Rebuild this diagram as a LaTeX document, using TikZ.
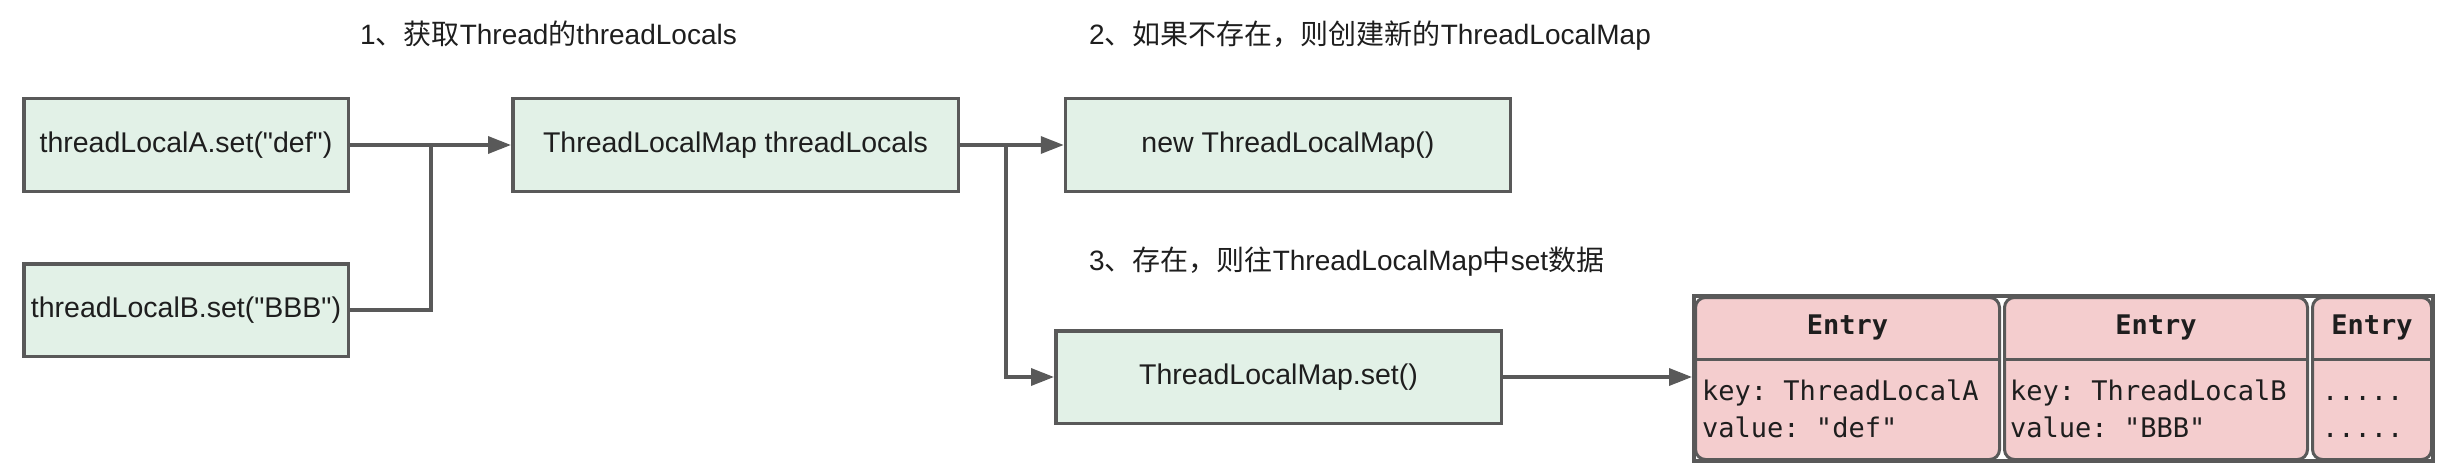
\documentclass[tikz,border=0pt]{standalone}
\usepackage{fontspec}
\setmainfont{Liberation Sans}
\setmonofont{DejaVu Sans Mono}
\newfontfamily\boxfont{Liberation Sans}
\newfontfamily\cjk{Noto Sans CJK SC}
\usetikzlibrary{arrows.meta}
\definecolor{lngray}{RGB}{89,89,89}
\definecolor{boxgreen}{RGB}{226,241,231}
\definecolor{entpink}{RGB}{244,205,206}
\definecolor{txtdark}{RGB}{30,30,30}
\begin{document}
\begin{tikzpicture}[x=1pt,y=1pt,
  blk/.style={draw=lngray,fill=boxgreen,line width=3.5pt,minimum height=92.5pt,
    inner sep=0pt,text=txtdark,font=\boxfont\fontsize{28.5}{34}\selectfont},
  ttl/.style={anchor=base west,inner sep=0pt,text=txtdark,font=\fontsize{28}{34}\selectfont},
  cell/.style={draw=lngray,fill=entpink,line width=3pt,rounded corners=10pt,
    minimum height=162pt,inner sep=0pt},
  hdr/.style={inner sep=0pt,text=txtdark,font=\ttfamily\bfseries\fontsize{27}{32}\selectfont},
  mono/.style={anchor=base west,inner sep=0pt,text=txtdark,font=\ttfamily\fontsize{27}{32}\selectfont},
  ln/.style={draw=lngray,line width=3.5pt},
  arr/.style={ln,-{Triangle[length=23pt,width=17pt]}}]%
\useasboundingbox (0,0) rectangle (2460,467);
% titles
\node[ttl] (step1) at (360,422) {1{\cjk 、获取}Thread{\cjk 的}threadLocals};
\node[ttl] (step2) at (1089,422) {2{\cjk 、如果不存在，则创建新的}ThreadLocalMap};
\node[ttl] (step3) at (1089,197) {3{\cjk 、存在，则往}ThreadLocalMap{\cjk 中}set{\cjk 数据}};
% boxes
\node[blk,minimum width=324.5pt] (setA) at (186,322) {threadLocalA.set("def")};
\node[blk,minimum width=324.5pt] (setB) at (186,157) {threadLocalB.set("BBB")};
\node[blk,minimum width=445.5pt] (tlMap) at (735.5,322) {ThreadLocalMap threadLocals};
\node[blk,minimum width=445pt] (newMap) at (1288,322) {new ThreadLocalMap()};
\node[blk,minimum width=445.5pt] (mapSet) at (1278.5,90) {ThreadLocalMap.set()};
% entry table
\node[draw=lngray,line width=4pt,minimum width=739pt,minimum height=165pt,inner sep=0pt]
  (entries) at (2063.5,88.5) {};
\node[cell,minimum width=304pt] (ent1) at (1847.5,88.5) {};
\node[cell,minimum width=303pt] (ent2) at (2156,88.5) {};
\node[cell,minimum width=119pt] (ent3) at (2372,88.5) {};
\draw[ln,line width=3pt] ([yshift=19.5pt]ent1.west) -- ([yshift=19.5pt]ent1.east);
\draw[ln,line width=3pt] ([yshift=19.5pt]ent2.west) -- ([yshift=19.5pt]ent2.east);
\draw[ln,line width=3pt] ([yshift=19.5pt]ent3.west) -- ([yshift=19.5pt]ent3.east);
\node[hdr] (hdr1) at ([yshift=51.5pt]ent1.center) {Entry};
\node[hdr] (hdr2) at ([yshift=51.5pt]ent2.center) {Entry};
\node[hdr] (hdr3) at ([yshift=51.5pt]ent3.center) {Entry};
\node[mono] (key1) at (1702,67) {key: ThreadLocalA};
\node[mono] (val1) at (1702,30) {value: "def"};
\node[mono] (key2) at (2010,67) {key: ThreadLocalB};
\node[mono] (val2) at (2010,30) {value: "BBB"};
\node[mono] (key3) at (2322,67) {.....};
\node[mono] (val3) at (2322,30) {.....};
% connectors
\coordinate (joinAB) at (431,322);
\coordinate (fork) at (1006,322);
\draw[arr] (setA) -- (tlMap);
\draw[ln] (setB) -| (joinAB);
\draw[arr] (tlMap) -- (newMap);
\draw[arr] (fork) |- (mapSet);
\draw[arr] (mapSet) -- (mapSet -| entries.west);
\end{tikzpicture}
\end{document}
